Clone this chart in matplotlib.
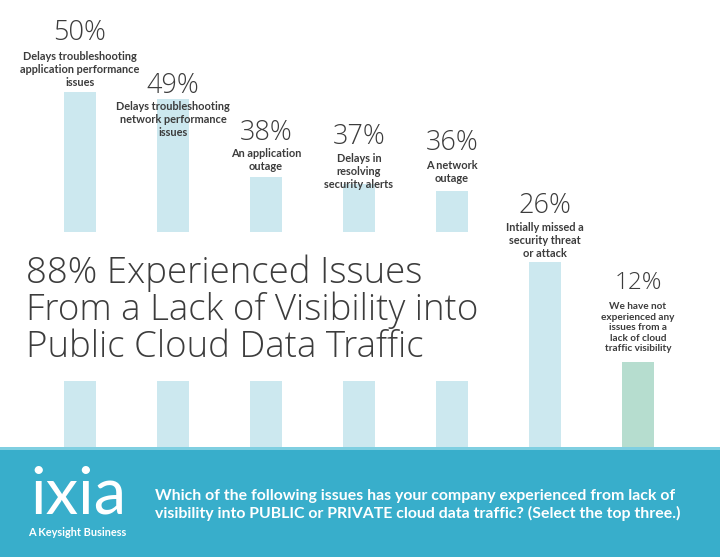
import matplotlib
matplotlib.use("Agg")
import matplotlib.pyplot as plt
from matplotlib import transforms
from matplotlib.patches import Rectangle

# ---- data ----
values = [50, 49, 38, 37, 36, 26, 12]
pct_labels = ["50%", "49%", "38%", "37%", "36%", "26%", "12%"]
descriptions = [
    "Delays troubleshooting\napplication performance\nissues",
    "Delays troubleshooting\nnetwork performance\nissues",
    "An application\noutage",
    "Delays in\nresolving\nsecurity alerts",
    "A network\noutage",
    "Intially missed a\nsecurity threat\nor attack",
    "We have not\nexperienced any\nissues from a\nlack of cloud\ntraffic visibility",
]
title = "88% Experienced Issues\nFrom a Lack of Visibility into\nPublic Cloud Data Traffic"
question = ("Which of the following issues has your company experienced from lack of\n"
            "visibility into PUBLIC or PRIVATE cloud data traffic? (Select the top three.)")

# ---- layout / style ----
W, H = 720, 557
BLUE = "#cce8ef"
GREEN = "#b6ddcf"
BAND = "#38aecb"
TXT = "#3c3c3c"
FONT = ["Lato", "DejaVu Sans"]
LIGHT = ["Open Sans", "DejaVu Sans"]

pct_y = [33, 86, 133, 137, 143, 206, 283]
desc_top = [51, 101, 148, 153, 160, 222, 302]
pct_size = [19.5, 19.5, 19.5, 19.5, 19.5, 19.5, 17.5]
desc_size = [7.9, 7.9, 7.9, 7.9, 7.9, 7.9, 7.2]

fig = plt.figure(figsize=(W / 100, H / 100), dpi=100)
fig.patch.set_facecolor("white")

bottom_px, top_px = 447, 92
ax = fig.add_axes([33.5 / W, (H - bottom_px) / H, 651 / W, (bottom_px - top_px) / H])
x = list(range(len(values)))
colors = [BLUE] * (len(values) - 1) + [GREEN]
ax.bar(x, values, width=0.335, color=colors, zorder=1)
ax.set_xlim(-0.5, len(values) - 0.5)
ax.set_ylim(0, 50)
ax.axis("off")

ov = fig.add_axes([0, 0, 1, 1], zorder=5)
ov.set_xlim(0, W)
ov.set_ylim(H, 0)
ov.axis("off")
ov.patch.set_alpha(0)

ov.add_patch(Rectangle((0, 232), 522, 149, facecolor="white", edgecolor="none", zorder=1))

bl = transforms.blended_transform_factory(ax.transData, ov.transData)
for i in x:
    ov.text(i, pct_y[i], pct_labels[i], transform=bl, ha="center", va="center",
            fontsize=pct_size[i], color=TXT, family=LIGHT, fontweight=300, zorder=3)
    ov.text(i, desc_top[i], descriptions[i], transform=bl, ha="center", va="top",
            fontsize=desc_size[i], color=TXT, family=FONT, fontweight="bold",
            linespacing=1.22, zorder=3)

ov.text(26, 310, title, ha="left", va="center", fontsize=26.4, color=TXT,
        family=LIGHT, fontweight=300, linespacing=1.0, zorder=3)

ov.add_patch(Rectangle((0, 449), W, H - 449, facecolor=BAND, edgecolor="none", zorder=4))
ov.add_patch(Rectangle((0, 446.5), W, 3, facecolor="#7fcfe1", edgecolor="none", zorder=4))
ov.text(30, 513, "ixia", ha="left", va="baseline", fontsize=47, color="white",
        family=FONT, fontweight="normal", zorder=5)
ov.text(28, 532, "A Keysight Business", ha="left", va="center", fontsize=7.9,
        color="white", family=FONT, fontweight="bold", zorder=5)
ov.text(155, 505, question, ha="left", va="center", fontsize=11.4, color="white",
        family=FONT, fontweight="bold", linespacing=1.2, zorder=5)

fig.savefig("out.png", dpi=100, facecolor="white")
